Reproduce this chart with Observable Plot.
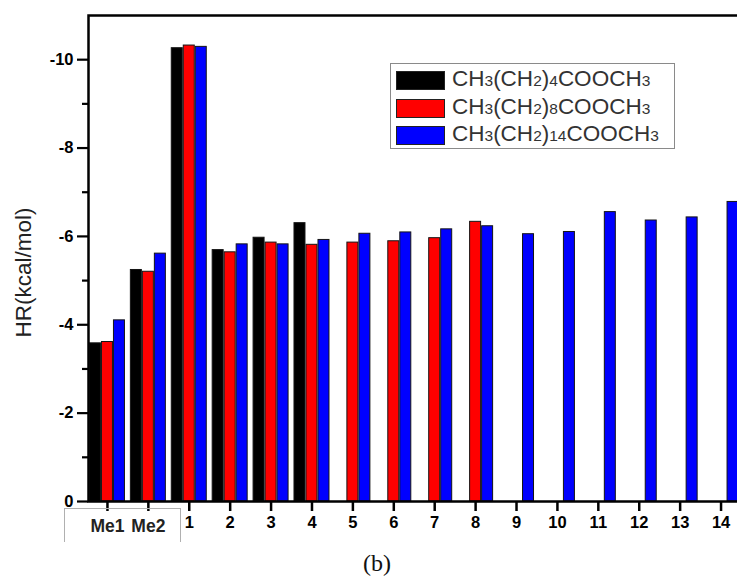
<!DOCTYPE html>
<html>
<head>
<meta charset="utf-8">
<script src="https://cdn.jsdelivr.net/npm/d3@7"></script>
<script src="https://cdn.jsdelivr.net/npm/@observablehq/plot@0.6"></script>
<style>
  html, body { margin: 0; padding: 0; background: #fff; overflow: hidden; }
  #wrap { position: relative; width: 737px; height: 579px; overflow: hidden; font-family: "Liberation Sans", Arial, sans-serif; }
  #legend { position: absolute; left: 390px; top: 63px; width: 283px; height: 84px; border: 1.5px solid #8a8a8a; background: #fff; }
  .row { position: absolute; left: 5px; height: 22px; display: flex; align-items: center; }
  .sw { width: 49px; height: 19px; border: 1px solid #222; box-sizing: border-box; margin-right: 7px; }
  .lbl { font-size: 22.5px; color: #333; white-space: nowrap; line-height: 22px; }
  .lbl .s { font-size: 15.5px; }
  #mebox { position: absolute; left: 64px; top: 508px; width: 115px; height: 33px; border: 1.5px solid #b0b0b0; border-bottom: none; }
  #cap { position: absolute; left: 0; width: 754px; top: 550px; text-align: center; font-family: "Liberation Serif", "Times New Roman", serif; font-size: 24px; color: #111; }
</style>
</head>
<body>
<div id="wrap"><div id="chart"></div></div>
<script>
const categories = ["Me1","Me2","1","2","3","4","5","6","7","8","9","10","11","12","13","14"];
const seriesNames = ["CH3(CH2)4COOCH3","CH3(CH2)8COOCH3","CH3(CH2)14COOCH3"];
const seriesColors = ["#000000","#ff0000","#0000ff"];
const valuesC4  = [-3.58,-5.24,-10.26,-5.69,-5.97,-6.30,null,null,null,null,null,null,null,null,null,null];
const valuesC8  = [-3.61,-5.20,-10.32,-5.64,-5.86,-5.81,-5.86,-5.89,-5.96,-6.33,null,null,null,null,null,null];
const valuesC14 = [-4.10,-5.61,-10.29,-5.82,-5.82,-5.92,-6.06,-6.09,-6.16,-6.23,-6.05,-6.10,-6.55,-6.36,-6.43,-6.78];
const majorTicks = [-10,-8,-6,-4,-2,0];
const minorTicks = [-9,-7,-5,-3,-1];
const methylTicks = ["Me1","Me2"];
const numberTicks = categories.filter(c => !methylTicks.includes(c));
const yLabel = "HR(kcal/mol)";
const caption = "(b)";

const seriesValues = [valuesC4, valuesC8, valuesC14];
const rows = [];
seriesValues.forEach((vals, si) => {
  vals.forEach((v, i) => rows.push({category: categories[i], series: seriesNames[si], value: v}));
});

const insets = [[0.5, 24.5],[12.5, 12.5],[24.5, 0.5]];
const bars = seriesNames.map((name, si) =>
  Plot.barY(rows.filter(d => d.series === name && d.value != null), {
    x: "category", y: "value", fill: seriesColors[si], stroke: "#151515", strokeWidth: 1,
    insetLeft: insets[si][0], insetRight: insets[si][1]
  })
);

const chart = Plot.plot({
  width: 745, height: 545,
  marginLeft: 88, marginRight: 0, marginTop: 15, marginBottom: 44,
  style: {fontFamily: "'Liberation Sans', Arial, sans-serif", maxWidth: "none", color: "#000", background: "transparent"},
  x: {domain: categories, range: [86.5, 741], paddingInner: 0.12, paddingOuter: 0.06, round: false},
  y: {domain: [0, -11]},
  marks: [
    ...bars,
    Plot.frame({stroke: "#000", strokeWidth: 2.5}),
    Plot.axisY({ticks: majorTicks, tickSize: 11, tickPadding: 4, tickFormat: d => String(d), fontSize: 16.5, fontWeight: "bold", strokeWidth: 2.2, label: null}),
    Plot.axisY({ticks: minorTicks, tickSize: 6, tickFormat: () => "", strokeWidth: 2.2, label: null}),
    Plot.axisX({ticks: numberTicks, tickSize: 10, tickPadding: 5, fontSize: 16.5, fontWeight: "bold", strokeWidth: 2.5, label: null}),
    Plot.axisX({ticks: methylTicks, tickSize: 10, tickPadding: 8, fontSize: 17.5, fontWeight: "bold", fill: "#222", strokeWidth: 2.5, label: null}),
    Plot.text([yLabel], {text: d => d, frameAnchor: "left", textAnchor: "middle", rotate: -90, dx: -65, dy: 14, fontSize: 22.5, fill: "#222"})
  ]
});
document.getElementById("chart").appendChild(chart);

// legend
const legend = document.createElement("div");
legend.id = "legend";
const rowTops = [5, 33, 60];
function formula(name) {
  return name.replace(/(\d+)/g, '<span class="s">$1</span>');
}
seriesNames.forEach((name, i) => {
  const r = document.createElement("div");
  r.className = "row";
  r.style.top = rowTops[i] + "px";
  r.innerHTML = `<div class="sw" style="background:${seriesColors[i]}"></div><div class="lbl">${formula(name)}</div>`;
  legend.appendChild(r);
});
document.getElementById("wrap").appendChild(legend);

const box = document.createElement("div");
box.id = "mebox";
document.getElementById("wrap").appendChild(box);

const cap = document.createElement("div");
cap.id = "cap";
cap.textContent = caption;
document.getElementById("wrap").appendChild(cap);
</script>
</body>
</html>
